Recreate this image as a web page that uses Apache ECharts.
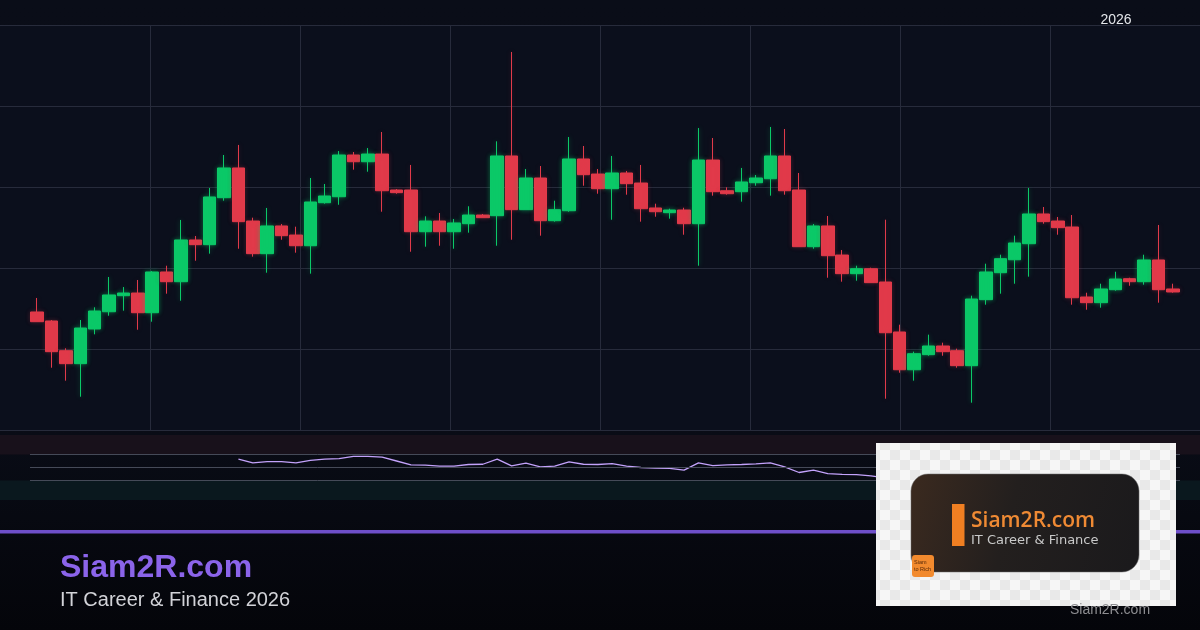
<!DOCTYPE html>
<html>
<head>
<meta charset="utf-8">
<script src="https://cdn.jsdelivr.net/npm/echarts@6/dist/echarts.min.js"></script>
<style>
html,body{margin:0;padding:0;background:#0a0d18;}
#chart{width:1200px;height:630px;}
</style>
</head>
<body>
<div id="chart"></div>
<script>
// ---- DATA ----
const categories = Array.from({length: 80}, (_, i) => 'D' + (i + 1));

const opens = [114.57,113.46,109.79,108.19,112.47,114.60,116.58,116.91,114.48,119.51,
  118.31,123.46,122.88,128.68,132.35,125.80,121.77,125.19,124.07,122.75,
  128.06,128.80,133.95,133.12,134.07,129.63,129.63,124.48,125.80,124.48,
  125.47,126.54,126.46,133.83,127.20,131.11,125.84,127.07,133.46,131.60,
  129.79,131.73,130.49,127.41,126.83,127.16,125.47,133.33,129.54,129.42,
  130.53,131.02,133.83,129.63,122.63,125.19,121.60,119.30,119.91,118.27,
  112.10,107.44,109.30,110.37,109.79,107.94,116.09,119.42,121.02,123.00,
  126.67,125.80,125.06,116.42,115.72,117.32,118.68,118.31,120.99,117.41];

const closes = [113.37,109.67,108.19,112.59,114.69,116.67,116.91,114.48,119.51,118.31,
  123.46,122.88,128.77,132.35,125.72,121.77,125.19,123.99,122.75,128.15,
  128.89,133.95,133.12,134.07,129.54,129.30,124.48,125.80,124.48,125.56,
  126.54,126.21,133.83,127.20,131.11,125.84,127.20,133.46,131.52,129.79,
  131.73,130.41,127.32,126.95,127.16,125.47,133.33,129.42,129.17,130.62,
  131.11,133.83,129.54,122.63,125.19,121.52,119.30,119.91,118.19,112.01,
  107.44,109.42,110.37,109.67,107.94,116.17,119.51,121.15,123.09,126.67,
  125.72,124.98,116.33,115.72,117.41,118.64,118.31,120.99,117.32,117.04];

const lows = [113.37,107.69,106.09,104.11,111.81,114.11,114.73,112.38,113.37,116.83,
  115.96,120.90,121.77,128.31,122.38,121.40,119.42,123.49,121.89,119.30,
  127.94,127.81,132.14,131.89,126.95,129.17,122.01,122.63,122.75,122.38,
  124.36,126.21,122.75,123.49,127.20,123.99,125.72,126.95,130.16,129.17,
  125.96,129.05,125.72,126.33,126.09,124.11,120.28,128.93,129.05,128.19,
  130.16,128.93,129.05,122.63,122.38,118.80,118.31,118.43,118.19,103.86,
  107.07,106.09,109.17,109.17,107.69,103.37,115.47,116.83,118.06,118.93,
  125.47,124.11,115.47,114.85,115.10,117.20,117.81,117.94,115.72,116.95];

const highs = [116.30,113.58,110.09,113.58,115.15,118.89,117.65,118.52,119.63,120.28,
  125.93,123.95,129.88,133.95,135.19,126.21,127.41,125.43,125.10,131.11,
  130.37,134.44,134.32,134.81,136.79,129.75,132.72,126.38,126.79,126.05,
  127.62,126.67,135.64,146.67,132.22,132.59,128.31,136.17,135.06,132.22,
  133.83,131.98,132.72,127.94,127.32,127.44,137.28,136.05,129.96,132.35,
  131.48,137.41,137.16,131.73,125.43,126.42,122.22,120.28,120.04,125.96,
  113.00,109.67,111.77,110.78,110.04,116.58,120.53,121.64,123.99,129.88,
  127.53,126.30,126.54,116.95,118.06,119.54,118.80,121.64,125.31,118.06];

const rsiValues = [null,null,null,null,null,null,null,null,null,null,null,null,null,null,
  63,57,59,59,57,61,63,63.5,67,67,
  66,60,54,53.5,52,52,54.6,55,62.8,52.5,
  56.6,51,52,58.6,55,54.6,56,52,50,49,
  48.5,46,57,53,54,54.6,55.5,57,51,42.3,
  46,40.5,39.5,39,37,34,30,29,31,32,
  31,30,42,47,51,55,60,58,56,42,
  41,43,46,45,49,43];

const rsiLevels = [70, 50, 30];

// ---- STYLE ----
const UP = '#0bc968';
const DOWN = '#e13a4a';
const GRIDLINE = '#272b3b';

const candleData = categories.map((c, i) => {
  const up = closes[i] >= opens[i];
  return {
    value: [opens[i], closes[i], lows[i], highs[i]],
    itemStyle: {
      shadowBlur: 5,
      shadowColor: up ? 'rgba(11,201,104,0.45)' : 'rgba(225,58,74,0.25)'
    }
  };
});

// checkerboard pattern for the logo card
const pat = document.createElement('canvas');
pat.width = 20; pat.height = 20;
const pctx = pat.getContext('2d');
pctx.fillStyle = '#f6f6f6'; pctx.fillRect(0, 0, 20, 20);
pctx.fillStyle = '#e9e9e9'; pctx.fillRect(0, 0, 10, 10); pctx.fillRect(10, 10, 10, 10);

const chart = echarts.init(document.getElementById('chart'), null, {renderer: 'canvas'});

const hiddenCat = (gi) => ({
  type: 'category', gridIndex: gi, data: categories, boundaryGap: true,
  axisLine: {show: false}, axisTick: {show: false}, axisLabel: {show: false}, splitLine: {show: false}
});

const option = {
  animation: false,
  backgroundColor: {
    type: 'linear', x: 0, y: 0, x2: 0, y2: 1,
    colorStops: [
      {offset: 0, color: '#0a0d18'},
      {offset: 0.7, color: '#090c16'},
      {offset: 0.82, color: '#070911'},
      {offset: 1, color: '#04050a'}
    ]
  },
  textStyle: {fontFamily: 'Liberation Sans, Arial, sans-serif'},
  grid: [
    {left: 0, right: 0, top: 25, height: 405, show: true, backgroundColor: '#0b0f1c', borderWidth: 0},
    {left: 30, right: 20, top: 25, height: 405},
    {left: 30, right: 20, top: 435, height: 65},
    {left: 0, right: 0, top: 435, height: 65}
  ],
  xAxis: [
    {type: 'value', gridIndex: 0, min: 0, max: 8, interval: 1,
      axisLine: {show: false}, axisTick: {show: false}, axisLabel: {show: false},
      splitLine: {show: true, showMinLine: false, showMaxLine: false, lineStyle: {color: GRIDLINE, width: 1}}},
    hiddenCat(1),
    hiddenCat(2),
    {type: 'value', gridIndex: 3, min: 0, max: 1,
      axisLine: {show: false}, axisTick: {show: false}, axisLabel: {show: false}, splitLine: {show: false}}
  ],
  yAxis: [
    {type: 'value', gridIndex: 0, min: 0, max: 5, interval: 1,
      axisLine: {show: false}, axisTick: {show: false}, axisLabel: {show: false},
      splitLine: {show: true, lineStyle: {color: GRIDLINE, width: 1}}},
    {type: 'value', gridIndex: 1, min: 100, max: 150, interval: 10, scale: false,
      axisLine: {show: false}, axisTick: {show: false}, axisLabel: {show: false}, splitLine: {show: false}},
    {type: 'value', gridIndex: 2, min: 0, max: 100,
      axisLine: {show: false}, axisTick: {show: false}, axisLabel: {show: false}, splitLine: {show: false}},
    {type: 'value', gridIndex: 3, min: 0, max: 100, interval: 10,
      axisLine: {show: false}, axisTick: {show: false}, axisLabel: {show: false}, splitLine: {show: false},
      splitArea: {show: true, areaStyle: {color: [
        '#0a181e','#0a181e','#0a181e',
        'rgba(0,0,0,0)','rgba(0,0,0,0)','rgba(0,0,0,0)','rgba(0,0,0,0)',
        '#18111b','#18111b','#18111b'
      ]}}}
  ],
  series: [
    {
      type: 'candlestick', name: 'Price', xAxisIndex: 1, yAxisIndex: 1,
      data: candleData, barWidth: 13,
      itemStyle: {color: UP, color0: DOWN, borderColor: UP, borderColor0: DOWN, borderWidth: 1}
    },
    {
      type: 'line', name: 'RSI', xAxisIndex: 2, yAxisIndex: 2,
      data: rsiValues, showSymbol: false, smooth: false, connectNulls: false,
      lineStyle: {color: '#c3a2fb', width: 1.3},
      markLine: {
        silent: true, symbol: 'none', label: {show: false},
        lineStyle: {color: '#454a58', width: 1, type: 'solid'},
        data: rsiLevels.map(v => ({yAxis: v}))
      }
    }
  ],
  graphic: [
    // top year label
    {type: 'text', z: 50, style: {text: '2026', x: 1116, y: 20, fill: '#e4e6ea',
      font: '14px "Liberation Sans", Arial, sans-serif', textAlign: 'center', textVerticalAlign: 'middle'}},
    // purple divider
    {type: 'rect', z: 40, shape: {x: 0, y: 530, width: 1200, height: 3.5}, style: {fill: '#6e4fc9'}},
    // branding text
    {type: 'text', z: 50, style: {text: 'Siam2R.com', x: 60, y: 568, fill: '#8b64ea',
      font: 'bold 32px "Liberation Sans", Arial, sans-serif', textAlign: 'left', textVerticalAlign: 'middle'}},
    {type: 'text', z: 50, style: {text: 'IT Career & Finance 2026', x: 60, y: 600, fill: '#d2d3d8',
      font: '20px "Liberation Sans", Arial, sans-serif', textAlign: 'left', textVerticalAlign: 'middle'}},
    // logo card
    {type: 'rect', z: 60, shape: {x: 876, y: 443, width: 300, height: 163},
      style: {fill: {type: 'pattern', image: pat, repeat: 'repeat'}}},
    {type: 'rect', z: 61, shape: {x: 911, y: 474, width: 228, height: 98, r: 17},
      style: {
        fill: {type: 'linear', x: 0, y: 0, x2: 1, y2: 0.6, colorStops: [
          {offset: 0, color: '#3b2a1f'}, {offset: 0.45, color: '#231f1e'}, {offset: 1, color: '#1b1a1c'}]},
        stroke: 'rgba(110,110,110,0.5)', lineWidth: 1
      }},
    {type: 'rect', z: 62, shape: {x: 952, y: 504, width: 12.5, height: 42}, style: {fill: '#f07f22'}},
    {type: 'text', z: 62, style: {text: 'Siam2R.com', x: 971, y: 521.5, fill: '#ef8a34',
      font: '600 21px "Open Sans", "DejaVu Sans", sans-serif', textAlign: 'left', textVerticalAlign: 'middle'}},
    {type: 'text', z: 62, style: {text: 'IT Career & Finance', x: 971, y: 540.5, fill: '#c9c9c9',
      font: '13px "DejaVu Sans", sans-serif', textAlign: 'left', textVerticalAlign: 'middle'}},
    {type: 'rect', z: 63, shape: {x: 912, y: 555, width: 22, height: 22, r: 3}, style: {fill: '#f28a2e'}},
    {type: 'text', z: 64, style: {text: 'Siam\nto Rich', x: 914, y: 566, fill: '#5a2a08',
      font: '5.5px "Liberation Sans", sans-serif', textAlign: 'left', textVerticalAlign: 'middle', lineHeight: 7}},
    {type: 'text', z: 65, style: {text: 'Siam2R.com', x: 1110, y: 610, fill: '#8e8e92',
      font: '14px "Liberation Sans", Arial, sans-serif', textAlign: 'center', textVerticalAlign: 'middle'}}
  ]
};

chart.setOption(option);
</script>
</body>
</html>
